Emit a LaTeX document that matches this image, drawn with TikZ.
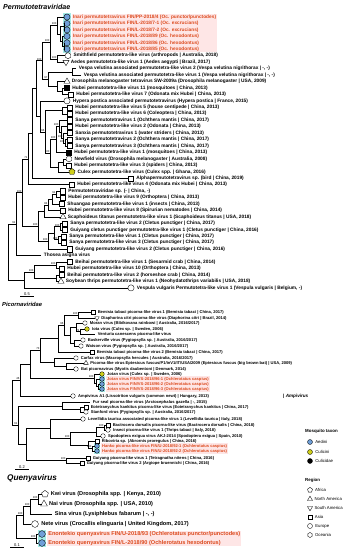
\documentclass[tikz,border=0pt]{standalone}
\usepackage{fontspec}
\setmainfont{Liberation Sans}
\usepackage{tikz}
\usetikzlibrary{positioning,shapes.geometric,fit,backgrounds,calc}
\definecolor{aedini}{HTML}{6F9FD8}
\definecolor{culicini}{HTML}{CFCF1A}
\definecolor{hltext}{HTML}{DC4A1E}
\definecolor{hlpink}{HTML}{FEE6E6}
\definecolor{hlcyan}{HTML}{A4ECE8}
\newcommand\ts{6pt}
% internal node of a tree: name, x, two children, support value
\newcommand\clade[5]{%
  \path let \p1=(#3), \p2=(#4) in ({#2pt},{(\y1+\y2)/2}) coordinate (#1);
  \draw[branch] (#1) |- (#3) (#1) |- (#4);
  \node[bs] (#1-bs) at (#1) {#5};
}

\begin{document}
\begin{tikzpicture}[x=1pt, y=-1pt,
    branch/.style={line width=0.45pt},
    tipbase/.style={draw, line width=0.35pt, inner sep=0pt, minimum size=\ts, fill=white},
    cir/.style={tipbase, circle},
    cirA/.style={cir, fill=aedini},
    cirC/.style={cir, fill=culicini},
    cirK/.style={cir, fill=black},
    sqr/.style={tipbase, rectangle, minimum size=0.82*\ts},
    sqrK/.style={sqr, fill=black},
    tri/.style={tipbase, regular polygon, regular polygon sides=3, minimum size=1.15*\ts},
    itri/.style={tri, shape border rotate=180},
    hex/.style={tipbase, regular polygon, regular polygon sides=6, shape border rotate=30},
    pen/.style={tipbase, regular polygon, regular polygon sides=5, minimum size=1.05*\ts},
    penC/.style={pen, fill=culicini},
    bare/.style={inner sep=0pt, minimum size=0pt},
    plbl/.style={font=\fontsize{4.8}{5}\selectfont\bfseries, inner sep=0pt},
    pred/.style={plbl, text=hltext},
    clbl/.style={font=\fontsize{4.1}{4.5}\selectfont\bfseries, inner sep=0pt},
    cred/.style={clbl, text=hltext},
    qlbl/.style={font=\fontsize{5.6}{6}\selectfont\bfseries, inner sep=0pt},
    qred/.style={qlbl, text=hltext},
    ttl/.style={inner sep=0pt, anchor=west},
    bs/.style={font=\fontsize{2.8}{3}\selectfont, inner sep=0.3pt, anchor=south east},
    scl/.style={font=\fontsize{4}{4}\selectfont, inner sep=0.4pt},
    leg/.style={font=\fontsize{4.3}{5}\selectfont, inner sep=0pt, anchor=west},
    leghead/.style={font=\fontsize{4.4}{5}\selectfont\bfseries, inner sep=0pt, anchor=west},
    hlp/.style={fill=hlpink, inner xsep=1pt, inner ysep=0.6pt},
    hlc/.style={fill=hlcyan, inner sep=0.8pt}]
  \useasboundingbox (0,0) rectangle (357,550);

  % Permutotetraviridae
  \node[ttl, font=\fontsize{7.1}{8}\selectfont\bfseries\itshape] (ttl-perm) at (3,7) {Permutotetraviridae};
  \def\ts{6.2pt}
  \foreach \shp/\xx/\lsty/\txt [count=\i] in {
    cirA/67/pred/{Inari permutotetravirus FIN/PP-2018/4 (Oc. punctor/punctodes)},
    cirA/67/pred/{Inari permutotetravirus FIN/L-2018/7-1 (Oc. excrucians)},
    cirA/67/pred/{Inari permutotetravirus FIN/L-2018/7-2 (Oc. excrucians)},
    cirA/67/pred/{Inari permutotetravirus FIN/L-2018/89 (Oc. hexodontus)},
    cirA/67/pred/{Inari permutotetravirus FIN/L-2018/86 (Oc. hexodontus)},
    cirA/67/pred/{Inari permutotetravirus FIN/L-2018/85 (Oc. hexodontus)},
    hex/68/plbl/{Smithfield permutotetra-like virus (arthropods | Australia, 2018)},
    itri/66/plbl/{Aedes permutotetra-like virus 1 (Aedes aegypti | Brazil, 2017)},
    bare/76/plbl/{Vespa velutina associated permutotetra-like virus 2 (Vespa velutina nigrithorax | -, -)},
    bare/81/plbl/{Vespa velutina associated permutotetra-like virus 1 (Vespa velutina nigrithorax | -, -)},
    tri/67/plbl/{Drosophila melanogaster tetravirus SW-2009a (Drosophila melanogaster | USA, 2009)},
    sqrK/67/plbl/{Hubei permutotetra-like virus 11 (mosquitoes | China, 2013)},
    sqr/71/plbl/{Hubei permutotetra-like virus 7 (Odonata mix Hubei | China, 2013)},
    cir/67/plbl/{Hypera postica associated permutotetravirus (Hypera postica | France, 2015)},
    sqr/70/plbl/{Hubei permutotetra-like virus 5 (house centipede | China, 2013)},
    sqr/70/plbl/{Hubei permutotetra-like virus 6 (Coleoptera | China, 2013)},
    sqr/70/plbl/{Sanya permutotetravirus 1 (Ochthera mantis | China, 2017)},
    sqr/70/plbl/{Hubei permutotetra-like virus 2 (Odonata | China, 2013)},
    sqr/70/plbl/{Sanxia permutotetravirus 1 (water striders | China, 2013)},
    sqr/70/plbl/{Sanya permutotetravirus 2 (Ochthera mantis | China, 2017)},
    sqr/70/plbl/{Sanya permutotetravirus 3 (Ochthera mantis | China, 2017)},
    sqrK/69/plbl/{Hubei permutotetra-like virus 1 (mosquitoes | China, 2013)},
    hex/69/plbl/{Newfield virus (Drosophila melanogaster | Australia, 2008)},
    sqr/69/plbl/{Hubei permutotetra-like virus 3 (spiders | China, 2013)},
    penC/72/plbl/{Culex permutotetra-like virus (Culex spp. | Ghana, 2016)},
    sqr/131/plbl/{Alphapermutotetravirus sp. (bird | China, 2019)},
    sqr/72/plbl/{Hubei permutotetra-like virus 4 (Odonata mix Hubei | China, 2013)},
    sqr/63/plbl/{Permutotetraviridae sp. (- | China, -)},
    sqr/63/plbl/{Hubei permutotetra-like virus 9 (Orthoptera | China, 2013)},
    sqr/62/plbl/{Shuangao permutotetra-like virus 1 (insects | China, 2013)},
    sqr/63/plbl/{Hubei permutotetra-like virus 8 (Spirurian nematodes | China, 2014)},
    tri/63/plbl/{Scaphoideus titanus permutotetra-like virus 1 (Scaphoideus titanus | USA, 2018)},
    sqr/65/plbl/{Sanya permutotetra-like virus 2 (Cletus punctiger | China, 2017)},
    sqr/65/plbl/{Guiyang cletus punctiger permutotetra-like virus 1 (Cletus punctiger | China, 2016)},
    sqr/64/plbl/{Sanya permutotetra-like virus 1 (Cletus punctiger | China, 2017)},
    sqr/64/plbl/{Sanya permutotetra-like virus 3 (Cletus punctiger | China, 2017)},
    sqr/70/plbl/{Guiyang permutotetra-like virus 2 (Cletus punctiger | China, 2016)},
    bare/41/plbl/{Thosea asigna virus},
    sqr/70/plbl/{Beihai permutotetra-like virus 1 (Sesarmid crab | China, 2014)},
    sqr/62/plbl/{Hubei permutotetra-like virus 10 (Orthoptera | China, 2013)},
    sqr/62/plbl/{Beihai permutotetra-like virus 2 (horseshoe crab | China, 2014)},
    tri/61/plbl/{Soybean thrips permutotetra-like virus 1 (Neohydatothrips variabilis | USA, 2018)},
    cir/131/plbl/{Vespula vulgaris Permutotetra-like virus 1 (Vespula vulgaris | Belgium, -)}} {
    \pgfmathsetmacro\yy{17+6.45*(\i-1)}
    \node[\shp] (ti\i) at (\xx,\yy) {};
    \node[\lsty, right=2.5pt of ti\i] (ti\i-l) {\txt};
  }
  \clade{qi56}{64}{ti5}{ti6}{}
  \clade{qi456}{62}{ti4}{qi56}{}
  \clade{qi23}{64}{ti2}{ti3}{}
  \clade{qi2}{60}{qi23}{qi456}{}
  \clade{qi}{57}{ti1}{qi2}{100}
  \clade{q78}{57}{ti7}{ti8}{100}
  \clade{qi78}{50}{qi}{q78}{100}
  \clade{q910}{72}{ti9}{ti10}{}
  \clade{q1213}{62}{ti12}{ti13}{}
  \clade{q1113}{57}{ti11}{q1213}{}
  \clade{q913}{48}{q910}{q1113}{97}
  \clade{qtop}{42}{qi78}{q913}{100}
  \clade{q1516}{62}{ti15}{ti16}{}
  \clade{q2021}{65}{ti20}{ti21}{100}
  \clade{q1921}{63}{ti19}{q2021}{100}
  \clade{q1821}{61}{ti18}{q1921}{}
  \clade{q1721}{59}{ti17}{q1821}{100}
  \clade{q1722}{56}{q1721}{ti22}{100}
  \clade{q2324}{63}{ti23}{ti24}{}
  \clade{q2325}{58}{q2324}{ti25}{}
  \clade{q1725}{50}{q1722}{q2325}{100}
  \clade{q1525}{45}{q1516}{q1725}{96}
  \clade{q1425}{40}{ti14}{q1525}{}
  \clade{q125}{36}{qtop}{q1425}{}
  \clade{q126}{32}{q125}{ti26}{}
  \clade{q127}{28}{q126}{ti27}{71}
  \clade{q2829}{56}{ti28}{ti29}{91}
  \clade{q2830}{52}{q2829}{ti30}{}
  \clade{q2831}{48}{q2830}{ti31}{84}
  \clade{q2832}{44}{q2831}{ti32}{}
  \clade{q3334}{60}{ti33}{ti34}{100}
  \clade{q3536}{58}{ti35}{ti36}{100}
  \clade{q3336}{54}{q3334}{q3536}{}
  \clade{q3337}{48}{q3336}{ti37}{100}
  \clade{q2837}{38}{q2832}{q3337}{100}
  \clade{q137}{22}{q127}{q2837}{100}
  \clade{q138}{16}{q137}{ti38}{91}
  \clade{q3940}{56}{ti39}{ti40}{100}
  \clade{q4142}{56}{ti41}{ti42}{}
  \clade{q3942}{34}{q3940}{q4142}{100}
  \clade{q3943}{24}{q3942}{ti43}{}
  \clade{qroot}{8}{q138}{q3943}{}
  \coordinate (sb1a) at (20,296);
  \coordinate (sb1b) at (34,296);
  \draw[branch] (sb1a) -- (sb1b);
  \node[scl, above=0pt of $(sb1a)!.5!(sb1b)$] (sb1-l) {0.5};

  % Picornaviridae
  \node[ttl, font=\fontsize{5.8}{6}\selectfont\bfseries\itshape] (ttl-pico) at (2,304) {Picornaviridae};
  \def\ts{4.6pt}
  \foreach \shp/\xx/\yy/\lsty/\txt [count=\i] in {
    sqr/93/312/clbl/{Bemisia tabaci picorna-like virus 1 (Bemisia tabaci | China, 2017)},
    itri/97/318/clbl/{Diaphorina citri picorna-like virus (Diaphorina citri | Brazil, 2014)},
    hex/85/323/clbl/{Moran virus (Bibikovana rainbowi | Australia, 2016/2017)},
    cirC/87/329/clbl/{Iota virus (Culex sp. | Sweden, 2006)},
    bare/95/334/clbl/{Venturia canescens picorna-like virus},
    hex/83/340/clbl/{Baskerville virus (Pygiopsylla sp. | Australia, 2016/2017)},
    hex/81/346/clbl/{Watson virus (Pygiopsylla sp. | Australia, 2016/2017)},
    sqr/92/352/clbl/{Bemisia tabaci picorna-like virus 2 (Bemisia tabaci | China, 2017)},
    hex/76/358/clbl/{Carfax virus (Macropsylla hercules | Australia, 2016/2017)},
    tri/86/363/clbl/{Picorna-like virus Eptesicus fuscus/P1/inV1/IT/USA/2009 (Eptesicus fuscus (big brown bat) | USA, 2009)},
    cir/76/369/clbl/{Bat picornavirus (Myotis daubentoni | Denmark, 2014)},
    cirC/102/374/clbl/{Jotan virus (Culex sp. | Sweden, 2006)},
    cirA/102/379/cred/{Jotan virus FIN/VS-2018/96-1 (Ochlerotatus caspius)},
    cirA/102/384/cred/{Jotan virus FIN/VS-2018/96-2 (Ochlerotatus caspius)},
    cirA/102/389/cred/{Jotan virus FIN/VS-2018/96-3 (Ochlerotatus caspius)},
    cir/73/396/clbl/{Ampivirus A1 (Lissotriton vulgaris (common newt) | Hungary, 2013)},
    bare/90/402/clbl/{Fur seal picorna-like virus (Arctocephalus gazella | -, 2015)},
    sqr/86/407/clbl/{Eotetranychus kankitus picorna-like virus (Eotetranychus kankitus | China, 2017)},
    hex/86/412/clbl/{Stanford virus (Pygiopsylla sp. | Australia, 2016/2017)},
    cir/83/419/clbl/{Levellidia taurica associated picorna-like virus 1 (Levellidia taurica | Italy, 2018)},
    sqr/108/425/clbl/{Bactrocera dorsalis picorna-like virus (Bactrocera dorsalis | China, 2018)},
    cir/108/430/clbl/{Insect picorna-like virus 1 (Thrips tabaci | Italy, 2018)},
    cir/103/436/clbl/{Spodoptera exigua virus AKJ-2014 (Spodoptera exigua | Spain, 2010)},
    sqr/97/441/clbl/{Riboviria sp. (Abrornis proregulus | China, 2016)},
    cirA/97/446/cred/{Hanko picorna-like virus FIN/U-2018/92-1 (Ochlerotatus caspius)},
    cirA/97/451/cred/{Hanko picorna-like virus FIN/U-2018/92-2 (Ochlerotatus caspius)},
    sqr/88/458/clbl/{Guiyang picorna-like virus 1 (Tetragnatha nitens | China, 2016)},
    sqr/82/463/clbl/{Guiyang picorna-like virus 2 (Argiope bruennichi | China, 2016)}} {
    \node[\shp] (pi\i) at (\xx,\yy) {};
    \node[\lsty, right=2.5pt of pi\i] (pi\i-l) {\txt};
  }
  \clade{pc12}{78}{pi1}{pi2}{100}
  \clade{pc45}{80}{pi4}{pi5}{74}
  \clade{pc35}{76}{pi3}{pc45}{}
  \clade{pc67}{74}{pi6}{pi7}{}
  \clade{pc37}{70}{pc35}{pc67}{}
  \clade{pc17}{64}{pc12}{pc37}{96}
  \clade{pc18}{58}{pc17}{pi8}{}
  \clade{pc1011}{66}{pi10}{pi11}{}
  \clade{pc911}{54}{pi9}{pc1011}{}
  \clade{pc111}{40}{pc18}{pc911}{73}
  \clade{pc1415}{98}{pi14}{pi15}{}
  \clade{pc1315}{96.5}{pi13}{pc1415}{}
  \clade{pcJ}{94}{pi12}{pc1315}{100}
  \clade{pcA}{30}{pc111}{pcJ}{}
  \clade{pcA16}{20}{pcA}{pi16}{46}
  \clade{pc1819}{80}{pi18}{pi19}{}
  \clade{pc1719}{62}{pi17}{pc1819}{}
  \clade{pc2122}{104}{pi21}{pi22}{100}
  \clade{pc2123}{96}{pc2122}{pi23}{}
  \clade{pc2526}{92}{pi25}{pi26}{100}
  \clade{pc2426}{88}{pi24}{pc2526}{}
  \clade{pc2126}{70}{pc2123}{pc2426}{100}
  \clade{pc2026}{50}{pi20}{pc2126}{}
  \clade{pc2728}{66}{pi27}{pi28}{100}
  \clade{pc2028}{26}{pc2026}{pc2728}{}
  \clade{pcB}{18}{pc1719}{pc2028}{61}
  \clade{pcR}{12}{pcA16}{pcB}{}
  \node[anchor=west, inner sep=0pt, font=\fontsize{4.6}{5}\selectfont\bfseries] (ampi) at (283,396) {| \textit{Ampivirus}};
  \coordinate (sb2a) at (15,469.5);
  \coordinate (sb2b) at (29,469.5);
  \draw[branch] (sb2a) -- (sb2b);
  \node[scl, above=0pt of $(sb2a)!.5!(sb2b)$] (sb2-l) {0.2};

  % Quenyavirus
  \node[ttl, font=\fontsize{8.2}{9}\selectfont\bfseries\itshape] (ttl-quen) at (7,478) {Quenyavirus};
  \def\ts{6.8pt}
  \foreach \shp/\xx/\yy/\lsty/\txt [count=\i] in {
    pen/45/494/qlbl/{Kwi virus (Drosophila spp. | Kenya, 2010)},
    tri/44/504/qlbl/{Nai virus (Drosophila spp. | USA, 2010)},
    bare/52/514/qlbl/{Sina virus (Lysiphlebus fabarum | -, -)},
    cir/35/524/qlbl/{Nete virus (Crocallis elinguaria | United Kingdom, 2017)},
    cirA/42/534/qred/{Enontekio quenyavirus FIN/U-2018/93 (Ochlerotatus punctor/punctodes)},
    cirA/42/543/qred/{Enontekio quenyavirus FIN/L-2018/90 (Ochlerotatus hexodontus)}} {
    \node[\shp] (qu\i) at (\xx,\yy) {};
    \node[\lsty, right=2.5pt of qu\i] (qu\i-l) {\txt};
  }
  \clade{qu12}{38}{qu1}{qu2}{100}
  \clade{qu13}{30}{qu12}{qu3}{100}
  \clade{qu14}{23}{qu13}{qu4}{100}
  \clade{qu56}{36}{qu5}{qu6}{100}
  \clade{quR}{16}{qu14}{qu56}{}
  \coordinate (sb3a) at (10,547);
  \coordinate (sb3b) at (24,547);
  \draw[branch] (sb3a) -- (sb3b);
  \node[scl, above=0pt of $(sb3a)!.5!(sb3b)$] (sb3-l) {0.1};

  % highlighted Finnish sequences
  \begin{scope}[on background layer]
    \node[hlc, fit=(ti1)(ti6)] (hc-inari) {};
    \node[hlp, fit=(ti1-l)(ti6-l)] (hp-inari) {};
    \node[hlc, fit=(pi13)(pi15)] (hc-jotan) {};
    \node[hlp, fit=(pi13-l)(pi15-l)] (hp-jotan) {};
    \node[hlc, fit=(pi25)(pi26)] (hc-hanko) {};
    \node[hlp, fit=(pi25-l)(pi26-l)] (hp-hanko) {};
    \node[hlc, fit=(qu5)(qu6)] (hc-enon) {};
    \node[hlp, fit=(qu5-l)(qu6-l)] (hp-enon) {};
  \end{scope}

  % legend
  \def\ts{5pt}
  \node[leghead] (leg-mos) at (305,431) {Mosquito taxon};
  \foreach \shp/\yy/\txt [count=\i] in {cirA/442/Aedini, cirC/452/Culicini, cirK/461/Culicidae} {
    \node[\shp] (lm\i) at (310,\yy) {};
    \node[leg, right=2.5pt of lm\i] (lm\i-l) {\txt};
  }
  \node[leghead] (leg-reg) at (305,480) {Region};
  \foreach \shp/\yy/\txt [count=\i] in {pen/490/Africa, tri/499/North America, itri/508/South America, sqr/517/Asia, cir/526/Europe, hex/535/Oceania} {
    \node[\shp] (lr\i) at (310,\yy) {};
    \node[leg, right=2.5pt of lr\i] (lr\i-l) {\txt};
  }
\end{tikzpicture}
\end{document}
